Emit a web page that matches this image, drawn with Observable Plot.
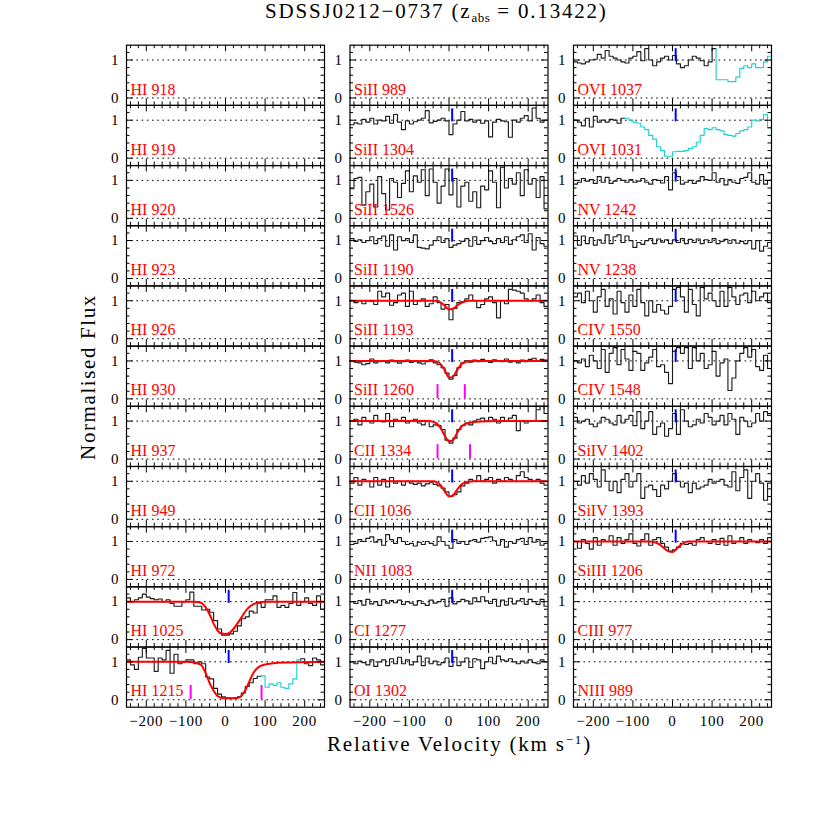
<!DOCTYPE html>
<html>
<head>
<meta charset="utf-8">
<script src="https://cdn.jsdelivr.net/npm/d3@7"></script>
<script src="https://cdn.jsdelivr.net/npm/@observablehq/plot@0.6"></script>
<style>
  body { margin: 0; background: #fff; }
  #wrap { position: relative; width: 814px; height: 814px; font-family: "Liberation Serif", serif; color: #000; }
  #chart { position: absolute; left: 0; top: 0; }
  .lbl { position: absolute; white-space: nowrap; font-size: 21px; letter-spacing: 1.8px; line-height: 21px; }
  #title { left: 265px; top: 1px; }
  #xlabel { left: 327px; top: 734px; }
  #ylabel { left: 88px; top: 377px; transform: translate(-50%, -50%) rotate(-90deg); letter-spacing: 1.6px; }
  sub { font-size: 13px; letter-spacing: 0.5px; vertical-align: -4px; line-height: 0; }
  sup { font-size: 13px; vertical-align: 7px; line-height: 0; }
  g[aria-label="x-axis tick label"] text { letter-spacing: 0.8px; }
</style>
</head>
<body>
<div id="wrap">
  <div id="chart"></div>
  <div id="title" class="lbl">SDSSJ0212−0737 (z<sub>abs</sub> = 0.13422)</div>
  <div id="xlabel" class="lbl">Relative Velocity (km s<sup>−1</sup>)</div>
  <div id="ylabel" class="lbl">Normalised Flux</div>
</div>
<script>
// ---------------- panel layout (column by column, top to bottom) ----------------
const col1Labels = ["HI 918","HI 919","HI 920","HI 923","HI 926","HI 930","HI 937","HI 949","HI 972","HI 1025","HI 1215"];
const col2Labels = ["SiII 989","SiII 1304","SiII 1526","SiII 1190","SiII 1193","SiII 1260","CII 1334","CII 1036","NII 1083","CI 1277","OI 1302"];
const col3Labels = ["OVI 1037","OVI 1031","NV 1242","NV 1238","CIV 1550","CIV 1548","SiIV 1402","SiIV 1393","SiIII 1206","CIII 977","NIII 989"];

// velocity bins (km/s): first bin left edge and bin width
const binStart = -250;
const binWidth = 10;

// ---------------- normalised flux per 10 km/s bin, -250 .. +250 km/s ----------------
const HI1025 = [1.10,1.00,1.05,1.10,1.20,1.12,1.08,1.05,1.07,1.00,
  1.05,0.95,0.88,0.88,1.00,1.05,1.25,0.88,0.88,0.78,
  0.80,0.72,0.50,0.28,0.12,0.12,0.15,0.22,0.36,0.55,
  0.60,0.75,0.70,0.96,0.85,1.05,1.05,1.15,0.85,0.90,
  0.85,0.95,1.24,0.90,1.00,1.10,0.95,0.90,1.15,0.80];
const HI1215 = [1.05,0.92,0.80,1.12,1.35,1.10,1.10,0.75,1.10,1.05,
  1.30,0.70,1.20,0.95,1.00,1.05,1.05,0.95,1.00,0.95,
  0.60,0.55,0.30,0.15,0.08,0.05,0.04,0.05,0.08,0.18,
  0.35,0.45,0.56,0.62,0.63,0.33,0.42,0.38,0.45,0.33,
  0.30,0.42,0.55,1.05,1.08,0.95,0.90,1.10,1.05,0.92];
const SiII1304 = [0.88,0.93,0.90,1.02,0.95,1.05,0.90,1.00,0.98,1.10,
  0.92,1.15,0.95,0.75,0.98,0.90,0.96,1.00,1.05,1.25,
  0.93,0.97,1.00,1.05,0.98,0.62,0.90,1.00,1.23,0.98,
  1.02,0.95,1.00,0.92,0.98,0.56,0.95,1.02,0.98,0.96,
  0.55,1.00,0.95,1.05,1.12,0.98,1.32,1.05,0.95,1.00];
const SiII1526 = [0.78,1.05,1.08,0.35,0.70,0.90,0.30,1.10,0.65,0.22,
  1.05,0.95,0.55,0.92,1.25,0.70,1.12,0.95,1.28,0.60,
  1.30,0.95,0.40,0.85,1.30,0.62,1.05,0.30,0.85,0.95,
  0.45,0.70,0.28,0.85,0.75,1.25,0.95,0.28,1.35,0.80,
  1.05,0.90,1.20,0.60,1.28,0.90,1.05,0.55,1.10,0.25];
const SiII1190 = [1.05,0.98,1.02,0.95,1.00,1.10,0.92,1.05,1.12,0.85,
  1.15,0.75,1.10,1.00,1.05,0.95,1.15,0.82,0.80,0.78,
  0.88,1.00,1.10,0.95,1.05,0.82,0.88,0.92,0.98,1.05,
  0.85,1.10,0.90,1.00,1.08,0.98,0.92,1.05,0.95,1.10,
  0.90,1.02,1.10,1.15,0.95,1.18,0.75,1.08,0.92,0.85];
const SiII1193 = [1.00,0.95,1.00,0.92,1.00,0.98,0.90,1.25,1.10,1.20,
  0.88,0.95,1.15,1.20,0.85,1.25,0.90,1.00,1.05,0.85,
  0.92,1.10,0.95,0.78,0.90,0.50,0.80,0.95,0.98,1.05,
  1.15,1.00,0.82,0.90,1.05,1.10,0.95,0.55,1.00,0.92,
  1.30,1.28,1.25,1.20,1.05,1.00,1.05,1.15,0.95,0.85];
const SiII1260 = [1.00,0.97,0.95,0.90,0.93,1.05,0.95,0.98,1.00,0.95,
  1.02,0.98,0.94,0.98,1.02,0.96,1.00,0.95,0.92,0.98,
  1.03,0.95,0.90,0.82,0.68,0.52,0.62,0.82,0.95,1.00,
  0.97,1.02,0.98,1.04,1.00,0.96,1.03,1.00,0.98,1.05,
  0.97,1.00,0.95,1.02,0.98,1.04,1.07,1.00,1.04,1.02];
const CII1334 = [1.00,1.05,0.90,1.10,1.00,0.95,1.15,1.00,0.98,1.20,
  0.85,1.05,1.00,1.10,0.95,1.00,1.05,0.95,0.90,1.00,
  0.85,0.90,0.88,0.78,0.50,0.42,0.55,0.78,0.88,0.95,
  0.90,1.00,1.05,1.08,1.00,1.10,1.05,0.95,1.10,1.00,
  1.08,1.15,0.75,1.00,0.95,1.00,1.00,1.30,1.40,1.20];
const CII1036 = [0.95,1.10,0.90,1.05,1.00,0.85,1.10,0.90,1.05,0.85,
  1.10,0.95,1.00,0.90,1.00,0.95,0.92,0.95,0.88,0.93,
  0.96,0.92,0.88,0.82,0.72,0.60,0.65,0.72,0.88,0.95,
  1.05,1.00,1.15,1.00,1.05,1.10,0.95,1.05,1.00,1.10,
  1.05,1.00,1.15,1.25,1.10,1.05,1.00,1.05,0.95,0.90];
const NII1083 = [0.92,0.95,1.05,1.00,1.08,1.12,0.98,1.05,0.90,1.18,
  1.05,0.95,1.10,1.00,0.92,0.95,0.88,0.98,0.92,1.00,
  0.95,0.90,1.12,1.00,0.90,0.82,1.05,0.95,1.00,0.92,
  1.02,1.05,0.98,1.08,1.10,1.12,1.02,0.90,1.05,0.85,
  1.00,0.95,1.05,1.08,0.92,1.10,0.98,1.05,0.90,0.95];
const CI1277 = [1.00,0.95,1.03,0.91,1.06,0.94,1.00,0.90,1.05,0.96,
  1.03,0.97,1.04,0.93,1.00,0.96,0.91,1.03,0.95,0.90,
  1.04,0.96,1.00,1.06,0.88,1.10,0.94,1.00,1.06,1.02,
  0.94,1.10,1.00,1.13,1.02,0.95,1.06,0.88,1.04,0.91,
  1.09,0.94,1.02,1.08,0.93,1.06,1.00,0.93,1.06,0.88];
const OI1302 = [1.00,0.95,1.02,0.98,0.92,1.05,0.88,1.00,1.05,0.90,
  1.08,0.95,1.12,0.95,1.05,0.92,1.00,1.15,0.90,1.10,
  0.95,1.02,0.92,0.98,1.10,0.88,1.12,0.90,1.00,1.10,
  0.85,1.08,1.05,0.82,1.00,1.12,0.95,1.15,1.05,1.02,
  1.08,1.00,0.95,1.02,0.97,1.05,0.98,0.95,1.05,1.00];
const OVI1037 = [0.95,0.92,0.90,0.95,1.00,1.02,1.15,1.05,1.25,1.10,
  1.05,1.00,0.95,0.92,1.05,1.10,1.22,0.98,1.30,1.00,
  0.85,0.95,1.05,1.10,1.00,1.12,0.90,0.80,0.85,1.00,
  1.10,1.05,0.98,0.85,0.95,1.30,0.48,0.48,0.48,0.43,
  0.43,0.55,0.78,0.85,0.80,0.90,0.80,0.80,0.95,1.10];
const OVI1031 = [1.00,0.95,0.85,1.05,0.82,1.10,0.95,1.00,0.95,1.02,
  1.00,0.92,1.05,1.05,1.00,0.95,0.92,0.82,0.75,0.60,
  0.50,0.30,0.20,0.05,0.05,0.17,0.18,0.18,0.20,0.25,
  0.30,0.42,0.60,0.78,0.75,0.80,0.75,0.72,0.62,0.60,
  0.58,0.65,0.72,0.75,0.82,1.00,0.98,1.02,1.15,0.80];
const NV1242 = [0.90,0.95,1.05,0.98,1.02,0.92,1.10,0.95,1.08,0.92,
  0.98,1.05,1.00,0.95,1.02,0.95,0.98,1.05,0.95,0.90,
  1.02,1.00,0.93,1.10,0.75,1.20,1.10,0.90,0.95,1.00,
  0.92,0.98,1.10,1.02,1.00,1.20,0.95,1.05,0.88,1.02,
  0.95,0.92,1.05,1.08,1.20,0.95,0.90,1.15,0.90,1.00];
const NV1238 = [1.12,0.88,1.12,0.92,1.08,0.88,1.02,0.93,1.15,0.92,
  1.10,1.15,0.95,1.12,1.00,0.82,0.95,0.90,1.00,1.05,
  0.92,1.04,0.96,1.02,0.92,1.02,0.95,1.05,0.92,1.03,
  0.95,1.04,0.92,1.02,0.95,1.05,0.92,0.98,1.03,0.93,
  1.02,0.93,0.98,0.92,1.00,0.78,1.00,0.72,0.85,0.95];
const CIV1550 = [1.10,1.20,0.95,1.25,1.00,0.70,1.10,1.30,0.85,1.05,
  0.65,1.25,0.95,0.70,1.15,0.85,1.30,0.95,0.60,1.00,
  0.70,0.90,0.75,0.65,0.85,1.30,1.35,1.10,0.70,1.30,
  0.90,0.60,1.35,1.05,1.20,1.00,0.85,1.25,0.85,1.35,
  1.10,0.90,1.15,1.20,0.95,1.25,1.00,1.10,1.20,0.95];
const CIV1548 = [1.00,0.95,1.05,0.85,1.15,1.00,0.80,1.30,0.70,1.20,
  1.35,0.90,1.30,1.05,0.75,1.25,1.20,0.75,0.95,1.10,
  1.30,0.85,0.90,0.70,0.40,1.25,1.35,1.20,1.35,0.80,
  1.35,1.00,1.20,0.80,0.90,1.25,0.60,0.95,1.05,0.22,
  0.55,1.00,1.20,1.35,1.10,1.30,0.85,0.75,1.15,0.80];
const SiIV1402 = [1.10,0.95,1.00,1.05,0.92,0.85,0.95,1.10,1.05,0.95,
  0.90,1.15,0.95,1.05,1.15,0.88,1.25,0.80,1.00,1.25,
  0.65,0.85,0.95,0.60,0.80,1.20,0.65,1.30,1.00,0.85,
  0.90,1.05,0.95,1.20,1.10,0.90,1.00,1.15,0.90,1.20,
  1.05,0.65,1.10,1.00,0.85,0.95,1.20,1.00,1.25,1.15];
const SiIV1393 = [1.00,0.90,1.15,0.95,1.20,1.05,0.85,1.30,1.00,0.75,
  1.00,0.70,1.05,1.20,0.85,1.00,1.20,0.55,0.85,0.90,
  0.78,0.60,0.90,0.80,1.00,1.20,1.00,0.85,0.95,0.70,
  0.95,0.80,0.85,0.90,1.05,0.95,1.00,1.05,0.90,0.85,
  1.25,0.75,1.10,1.30,0.55,1.00,1.20,0.95,0.50,0.95];
const SiIII1206 = [1.00,0.82,1.05,0.95,0.80,1.10,0.90,1.05,1.00,1.15,
  0.90,1.10,0.95,1.05,1.20,0.95,0.88,1.05,1.20,0.90,
  1.05,1.10,0.95,0.85,0.75,0.78,0.85,0.95,0.92,0.95,
  0.90,1.05,1.10,1.00,0.95,1.05,0.92,1.08,0.90,1.15,
  0.95,1.00,1.10,0.95,1.05,1.00,0.97,1.05,0.95,1.10];

const spectra = {
  "HI 1025": HI1025, "HI 1215": HI1215,
  "SiII 1304": SiII1304, "SiII 1526": SiII1526, "SiII 1190": SiII1190, "SiII 1193": SiII1193,
  "SiII 1260": SiII1260, "CII 1334": CII1334, "CII 1036": CII1036, "NII 1083": NII1083,
  "CI 1277": CI1277, "OI 1302": OI1302,
  "OVI 1037": OVI1037, "OVI 1031": OVI1031, "NV 1242": NV1242, "NV 1238": NV1238,
  "CIV 1550": CIV1550, "CIV 1548": CIV1548, "SiIV 1402": SiIV1402, "SiIV 1393": SiIV1393,
  "SiIII 1206": SiIII1206
};

// velocity ranges (km/s) of blended / contaminated pixels, drawn in cyan
const blendRanges = { "HI 1215": [90, 190], "OVI 1037": [110, 260], "OVI 1031": [-120, 260] };

// ---------------- fitted model profiles: [velocity, flux] ----------------
const modelHI1025 = [[-250,1],[-80,1],[-70,0.99],[-60,0.96],[-50,0.85],[-40,0.66],[-30,0.42],[-20,0.24],[-10,0.16],[0,0.15],[10,0.18],[20,0.28],[30,0.42],[40,0.58],[50,0.74],[60,0.86],[70,0.93],[80,0.97],[90,0.99],[110,1],[250,1]];
const modelHI1215 = [[-250,1],[-100,1],[-80,0.99],[-70,0.96],[-60,0.9],[-50,0.7],[-40,0.44],[-30,0.24],[-20,0.1],[-10,0.05],[0,0.04],[20,0.04],[30,0.05],[40,0.1],[50,0.25],[60,0.48],[70,0.7],[80,0.83],[90,0.9],[100,0.93],[120,0.96],[150,0.98],[200,0.99],[250,1]];
const modelSiII1193 = [[-250,1],[-40,1],[-30,0.99],[-20,0.95],[-10,0.86],[0,0.77],[10,0.79],[20,0.87],[30,0.94],[40,0.98],[50,1],[250,1]];
const modelSiII1260 = [[-250,1],[-40,1],[-30,0.98],[-20,0.9],[-10,0.74],[0,0.56],[10,0.58],[20,0.75],[30,0.9],[40,0.97],[50,0.99],[60,1],[250,1]];
const modelCII1334 = [[-250,1],[-50,1],[-40,0.98],[-30,0.93],[-20,0.8],[-10,0.6],[0,0.47],[10,0.5],[20,0.68],[30,0.84],[40,0.92],[50,0.95],[60,0.97],[80,0.99],[120,1],[250,1]];
const modelCII1036 = [[-250,1],[-40,1],[-30,0.97],[-20,0.88],[-10,0.72],[0,0.6],[10,0.63],[20,0.77],[30,0.9],[40,0.97],[50,0.99],[60,1],[250,1]];
const modelSiIII1206 = [[-250,1],[-60,1],[-50,0.99],[-40,0.96],[-30,0.9],[-20,0.81],[-10,0.74],[0,0.72],[10,0.8],[20,0.9],[30,0.97],[40,1],[250,1]];
const models = {
  "HI 1025": modelHI1025, "HI 1215": modelHI1215, "SiII 1193": modelSiII1193,
  "SiII 1260": modelSiII1260, "CII 1334": modelCII1334, "CII 1036": modelCII1036,
  "SiIII 1206": modelSiIII1206
};

// component velocity (blue marker) and blend markers (magenta), km/s
const componentVelocity = 8;
const blendMarkers = [
  {label: "HI 1215", v: -88}, {label: "HI 1215", v: 91},
  {label: "SiII 1260", v: -29}, {label: "SiII 1260", v: 40},
  {label: "CII 1334", v: -29}, {label: "CII 1334", v: 53}
];

// tick values
const xTickLabels = [-200, -100, 0, 100, 200];
const xMinorTicks = [-240,-220,-180,-160,-140,-120,-80,-60,-40,-20,20,40,60,80,120,140,160,180,220,240];
const yTickLabels = [0, 1];
const yMinorTicks = [0.2, 0.4, 0.6, 0.8, 1.2];
const guideLevels = [0, 1];

// ---------------- build tables ----------------
const panels = [];
[col1Labels, col2Labels, col3Labels].forEach((labels, col) =>
  labels.forEach((label, row) => panels.push({label, col, row})));
const panelOf = Object.fromEntries(panels.map(p => [p.label, p]));

const DATA = "#1c1c1c", CYAN = "#1ad2d2", RED = "#ff0000", BLUE = "#0000ff", MAGENTA = "#ff00ff";

const specRows = [];
for (const p of panels) {
  const flux = spectra[p.label];
  if (!flux) continue;
  const br = blendRanges[p.label];
  const colorAt = v => (br && v >= br[0] && v < br[1]) ? CYAN : DATA;
  let seg = 0, cur = null;
  flux.forEach((f, i) => {
    const v = binStart + i * binWidth;
    const c = colorAt(v);
    if (cur !== null && c !== cur) {
      specRows.push({...p, key: p.label + "#" + seg, color: cur, v, f: flux[i - 1]});
      seg++;
      specRows.push({...p, key: p.label + "#" + seg, color: c, v, f: flux[i - 1]});
    }
    cur = c;
    specRows.push({...p, key: p.label + "#" + seg, color: c, v, f});
  });
  specRows.push({...p, key: p.label + "#" + seg, color: cur, v: binStart + flux.length * binWidth, f: flux[flux.length - 1]});
}

const modelRows = [];
for (const [label, pts] of Object.entries(models)) {
  for (const [v, f] of pts) modelRows.push({...panelOf[label], v, f});
}
const dataPanels = panels.filter(p => spectra[p.label]);
const blendRows = blendMarkers.map(b => ({...panelOf[b.label], v: b.v}));

// ---------------- geometry ----------------
const W = 814, H = 814;
const mL = 126, mR = 43, mT = 44.7, mB = 107.3;
const gapFrac = 0.1141;
const fh = (H - mT - mB) / 11;
const fw = (W - mL - mR) / (3 - gapFrac) * (1 - gapFrac);
const majorLen = 6.5, minorLen = 3.5;

const chart = Plot.plot({
  width: W, height: H,
  marginLeft: mL, marginRight: mR, marginTop: mT, marginBottom: mB,
  style: {fontFamily: "'Liberation Serif', serif", fontSize: "15px", background: "transparent", color: "#000"},
  x: {domain: [-250, 250]},
  y: {domain: [-0.195, 1.39], axis: null},
  fx: {domain: [0, 1, 2], paddingInner: gapFrac, paddingOuter: 0, axis: null, round: false},
  fy: {domain: d3.range(11), padding: 0, axis: null, round: false},
  color: {type: "identity"},
  marks: [
    Plot.ruleY(guideLevels, {stroke: "#000", strokeWidth: 1, strokeDasharray: "1.6,3.6"}),
    Plot.line(specRows, {x: "v", y: "f", z: "key", stroke: "color", fx: "col", fy: "row",
      curve: "step-after", strokeWidth: 1.15, clip: true}),
    Plot.line(modelRows, {x: "v", y: "f", fx: "col", fy: "row", stroke: RED,
      strokeWidth: 2, curve: "monotone-x", clip: true}),
    // inward ticks on all four sides of each panel
    Plot.ruleX(xTickLabels, {insetTop: fh - majorLen, stroke: "#000"}),
    Plot.ruleX(xTickLabels, {insetBottom: fh - majorLen, stroke: "#000"}),
    Plot.ruleX(xMinorTicks, {insetTop: fh - minorLen, stroke: "#000"}),
    Plot.ruleX(xMinorTicks, {insetBottom: fh - minorLen, stroke: "#000"}),
    Plot.ruleY(yTickLabels, {insetRight: fw - majorLen, stroke: "#000"}),
    Plot.ruleY(yTickLabels, {insetLeft: fw - majorLen, stroke: "#000"}),
    Plot.ruleY(yMinorTicks, {insetRight: fw - minorLen, stroke: "#000"}),
    Plot.ruleY(yMinorTicks, {insetLeft: fw - minorLen, stroke: "#000"}),
    Plot.frame({stroke: "#000", strokeWidth: 1.2}),
    // component and blend markers
    Plot.ruleX(dataPanels, {x: () => componentVelocity, fx: "col", fy: "row", stroke: BLUE,
      strokeWidth: 2, insetTop: 3.5, insetBottom: fh - 16.5}),
    Plot.ruleX(blendRows, {x: "v", fx: "col", fy: "row", stroke: MAGENTA,
      strokeWidth: 2, insetTop: 38.5, insetBottom: fh - 52.6}),
    // panel labels
    Plot.text(panels, {fx: "col", fy: "row", text: "label", frameAnchor: "bottom-left",
      textAnchor: "start", lineAnchor: "middle", dx: 4, dy: -16, fill: RED, fontSize: 16}),
    // y tick labels on every panel
    Plot.text(yTickLabels, {y: d => d, text: d => String(d), frameAnchor: "left",
      textAnchor: "end", dx: -8, fill: "#000", fontSize: 15}),
    // x tick labels below bottom row
    Plot.axisX(xTickLabels, {tickSize: 0, tickPadding: 8, label: null, fontSize: 15})
  ]
});
document.getElementById("chart").appendChild(chart);
</script>
</body>
</html>
